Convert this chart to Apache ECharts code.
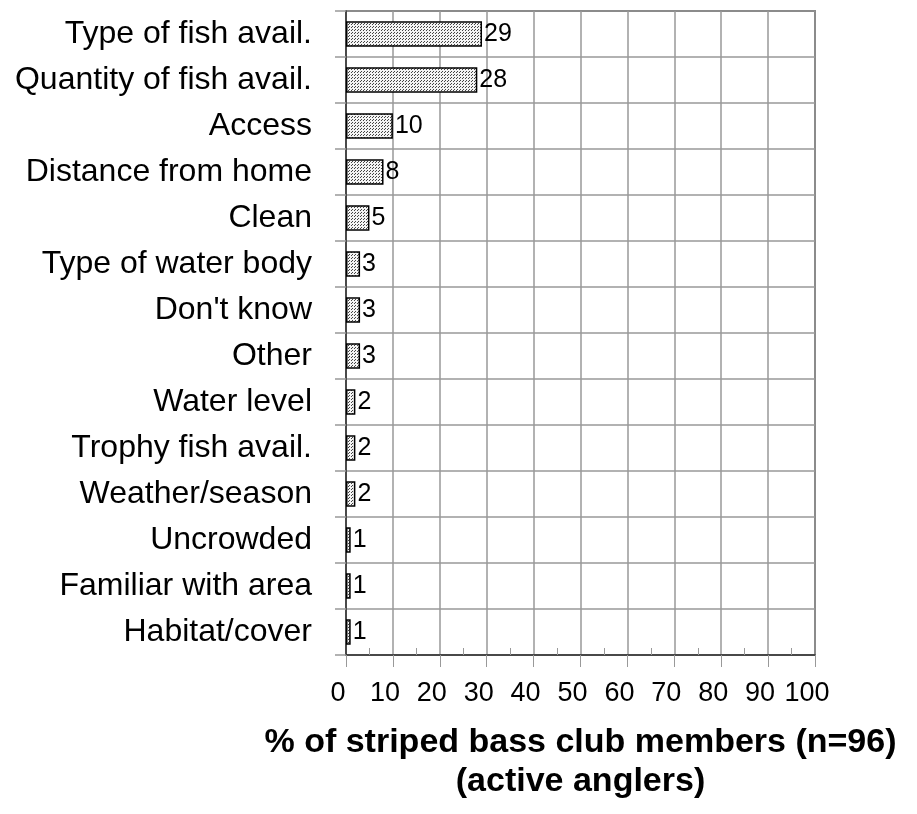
<!DOCTYPE html>
<html>
<head>
<meta charset="utf-8">
<script src="https://cdn.jsdelivr.net/npm/echarts@6/dist/echarts.min.js"></script>
<style>
  html, body { margin: 0; padding: 0; background: #fff; }
  #chart { width: 917px; height: 814px; }
</style>
</head>
<body>
<div id="chart"></div>
<script>
const categories = [
  'Type of fish avail.', 'Quantity of fish avail.', 'Access', 'Distance from home',
  'Clean', 'Type of water body', "Don't know", 'Other', 'Water level',
  'Trophy fish avail.', 'Weather/season', 'Uncrowded', 'Familiar with area', 'Habitat/cover'
]
const percents = [29, 28, 10, 8, 5, 3, 3, 3, 2, 2, 2, 1, 1, 1]
const xTicks = [0, 10, 20, 30, 40, 50, 60, 70, 80, 90, 100]
const axisTitle = '% of striped bass club members (n=96)\n(active anglers)'

// dotted fill like the original print pattern
function dotPattern() {
  const c = document.createElement('canvas')
  c.width = 3
  c.height = 3
  const ctx = c.getContext('2d')
  ctx.fillStyle = '#f4f4f4'
  ctx.fillRect(0, 0, 3, 3)
  ctx.fillStyle = '#444'
  ctx.fillRect(0, 0, 1, 1)
  ctx.fillRect(1, 2, 1, 1)
  return c
}

const font = '"Liberation Sans", Arial, sans-serif'
const chart = echarts.init(document.getElementById('chart'))

chart.setOption({
  backgroundColor: '#fff',
  animation: false,
  grid: { left: 346, right: 102, top: 11, bottom: 159, show: true, borderColor: '#333', borderWidth: 1.5 },
  xAxis: {
    type: 'value',
    min: 0,
    max: 100,
    interval: 10,
    name: axisTitle,
    nameLocation: 'middle',
    nameGap: 68,
    nameTextStyle: {
      fontFamily: font,
      fontSize: 34,
      fontWeight: 'bold',
      lineHeight: 39,
      color: '#000',
      verticalAlign: 'top'
    },
    axisLine: { show: true, lineStyle: { color: '#333', width: 1.5 } },
    axisTick: { show: true, length: 12, lineStyle: { color: '#999' } },
    minorTick: { show: true, splitNumber: 2, length: -7, lineStyle: { color: '#999' } },
    splitLine: { show: true, lineStyle: { color: '#999', width: 1.5 } },
    axisLabel: {
      margin: 25,
      fontFamily: font,
      fontSize: 27,
      color: '#000',
      padding: [0, 16, 0, 0],
      formatter: v => (xTicks.includes(v) ? String(v) : '')
    }
  },
  yAxis: {
    type: 'category',
    data: categories,
    inverse: true,
    axisLine: { show: true, lineStyle: { color: '#333', width: 1.5 } },
    axisTick: { show: true, length: 11, lineStyle: { color: '#999', width: 1.5 } },
    splitLine: { show: true, lineStyle: { color: '#999', width: 1.5 } },
    axisLabel: { margin: 34, fontFamily: font, fontSize: 32, color: '#000' }
  },
  series: [
    {
      type: 'bar',
      data: percents,
      barWidth: '55%',
      itemStyle: {
        color: { image: dotPattern(), repeat: 'repeat' },
        borderColor: '#000',
        borderWidth: 1.5
      },
      label: {
        show: true,
        position: 'right',
        distance: 2,
        fontFamily: font,
        fontSize: 25,
        color: '#000'
      }
    }
  ]
})
</script>
</body>
</html>
